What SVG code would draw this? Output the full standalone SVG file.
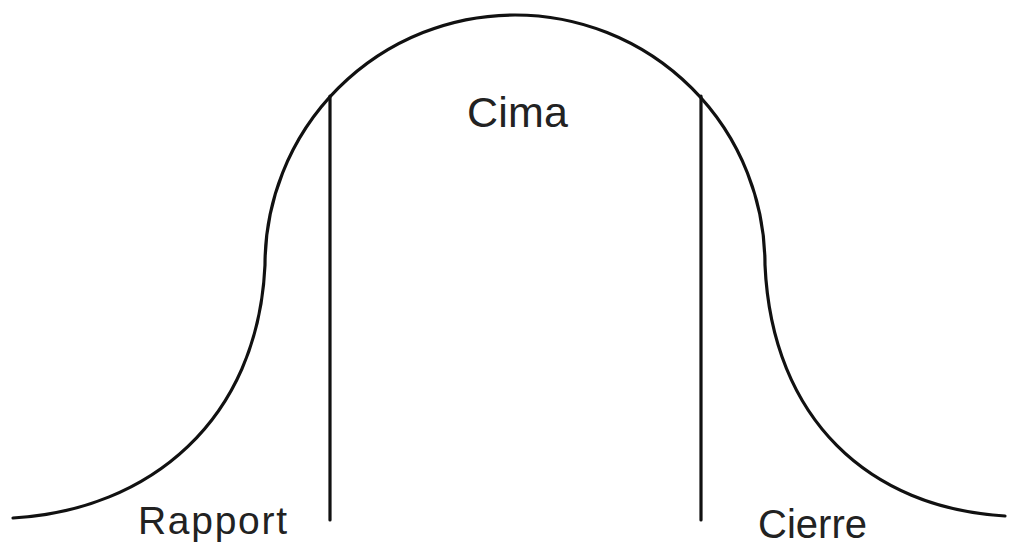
<svg xmlns="http://www.w3.org/2000/svg" width="1010" height="544" viewBox="0 0 1010 544">
<style>
.ln{fill:none;stroke:#111;stroke-width:3.2;stroke-linecap:round}
.t{font-family:"Liberation Sans",Arial,sans-serif;fill:#222}
</style>
<rect width="1010" height="544" fill="#fff"/>
<g id="connectors">
<path id="curve" class="ln" d="M13,518 C150,510 258,420 265,265 A250,250 0 0 1 765,265 C772,420 870,508 1005,516"/>
<line class="ln" x1="330" y1="96" x2="330" y2="520"/>
<line class="ln" x1="701" y1="96" x2="701" y2="520"/>
</g>
<g id="cima"><text class="t" x="467" y="127" font-size="43" textLength="101" lengthAdjust="spacing">Cima</text></g>
<g id="rapport"><text class="t" x="138" y="534" font-size="39" textLength="149" lengthAdjust="spacing">Rapport</text></g>
<g id="cierre"><text class="t" x="758" y="538" font-size="40" textLength="109" lengthAdjust="spacing">Cierre</text></g>
</svg>
